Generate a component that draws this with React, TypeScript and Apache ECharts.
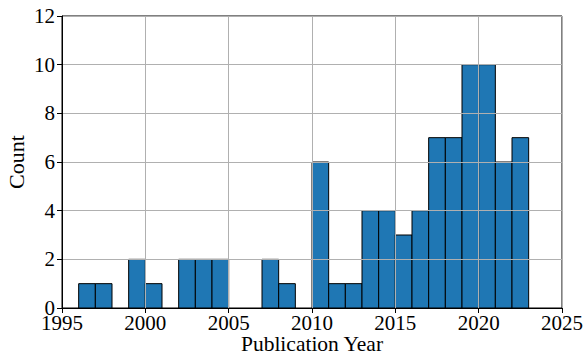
import React, { useEffect, useRef } from "react";
import * as echarts from "echarts";

// Histogram bins: one bin per year, [start, start + 1)
const binStarts = [
  1996, 1997, 1998, 1999, 2000, 2001, 2002, 2003, 2004, 2005, 2006, 2007, 2008, 2009,
  2010, 2011, 2012, 2013, 2014, 2015, 2016, 2017, 2018, 2019, 2020, 2021, 2022,
];
const counts = [
  1, 1, 0, 2, 1, 0, 2, 2, 2, 0, 0, 2, 1, 0,
  6, 1, 1, 4, 4, 3, 4, 7, 7, 10, 10, 6, 7,
];
const binWidth = 1;

const xTitle = "Publication Year";
const yTitle = "Count";

const FONT = "'Liberation Serif', 'Times New Roman', serif";

export default function App() {
  const ref = useRef<HTMLDivElement>(null);

  useEffect(() => {
    document.body.style.margin = "0";
    if (!ref.current) return;
    const chart = echarts.init(ref.current, undefined, { renderer: "svg" });

    const data = binStarts.map((s, i) => [s, s + binWidth, counts[i]]);

    chart.setOption({
      animation: false,
      backgroundColor: "#ffffff",
      grid: {
        left: 62,
        right: 23,
        top: 16,
        bottom: 47,
        containLabel: false,
        outerBoundsMode: "none",
        show: true,
        borderColor: "#000000",
        borderWidth: 1,
        backgroundColor: "transparent",
      },
      xAxis: {
        type: "value",
        min: 1995,
        max: 2025,
        interval: 5,
        z: 10,
        name: xTitle,
        nameLocation: "middle",
        nameMoveOverlap: false,
        nameGap: 26,
        nameTextStyle: { fontFamily: FONT, fontSize: 21.5, lineHeight: 20, color: "#000" },
        axisLine: { show: true, onZero: false, lineStyle: { color: "#000", width: 1 } },
        axisTick: { show: true, length: 5, inside: false, lineStyle: { color: "#000" } },
        axisLabel: {
          fontFamily: FONT,
          fontSize: 21,
          color: "#000",
          margin: 4,
          formatter: (v: number) => String(v),
        },
        splitLine: { show: true, lineStyle: { color: "#b0b0b0", width: 1 } },
      },
      yAxis: {
        type: "value",
        min: 0,
        max: 12,
        interval: 2,
        z: 10,
        name: yTitle,
        nameLocation: "middle",
        nameRotate: 90,
        nameMoveOverlap: false,
        nameGap: 35,
        nameTextStyle: { fontFamily: FONT, fontSize: 22, color: "#000" },
        axisLine: { show: true, lineStyle: { color: "#000", width: 1 } },
        axisTick: { show: true, length: 5, inside: false, lineStyle: { color: "#000" } },
        axisLabel: { fontFamily: FONT, fontSize: 21, color: "#000", margin: 7 },
        splitLine: { show: true, lineStyle: { color: "#b0b0b0", width: 1 } },
      },
      series: [
        {
          type: "custom",
          z: 2,
          data,
          encode: { x: [0, 1], y: 2 },
          renderItem: (params: any, api: any) => {
            const v = api.value(2);
            if (!v) return null;
            const p0 = api.coord([api.value(0), 0]);
            const p1 = api.coord([api.value(1), v]);
            return {
              type: "rect",
              shape: {
                x: p0[0],
                y: p1[1],
                width: p1[0] - p0[0],
                height: p0[1] - p1[1],
              },
              style: { fill: "#1f77b4", stroke: "#000000", lineWidth: 1 },
            };
          },
        },
      ],
    });

    return () => chart.dispose();
  }, []);

  return <div ref={ref} style={{ width: 585, height: 355 }} />;
}
